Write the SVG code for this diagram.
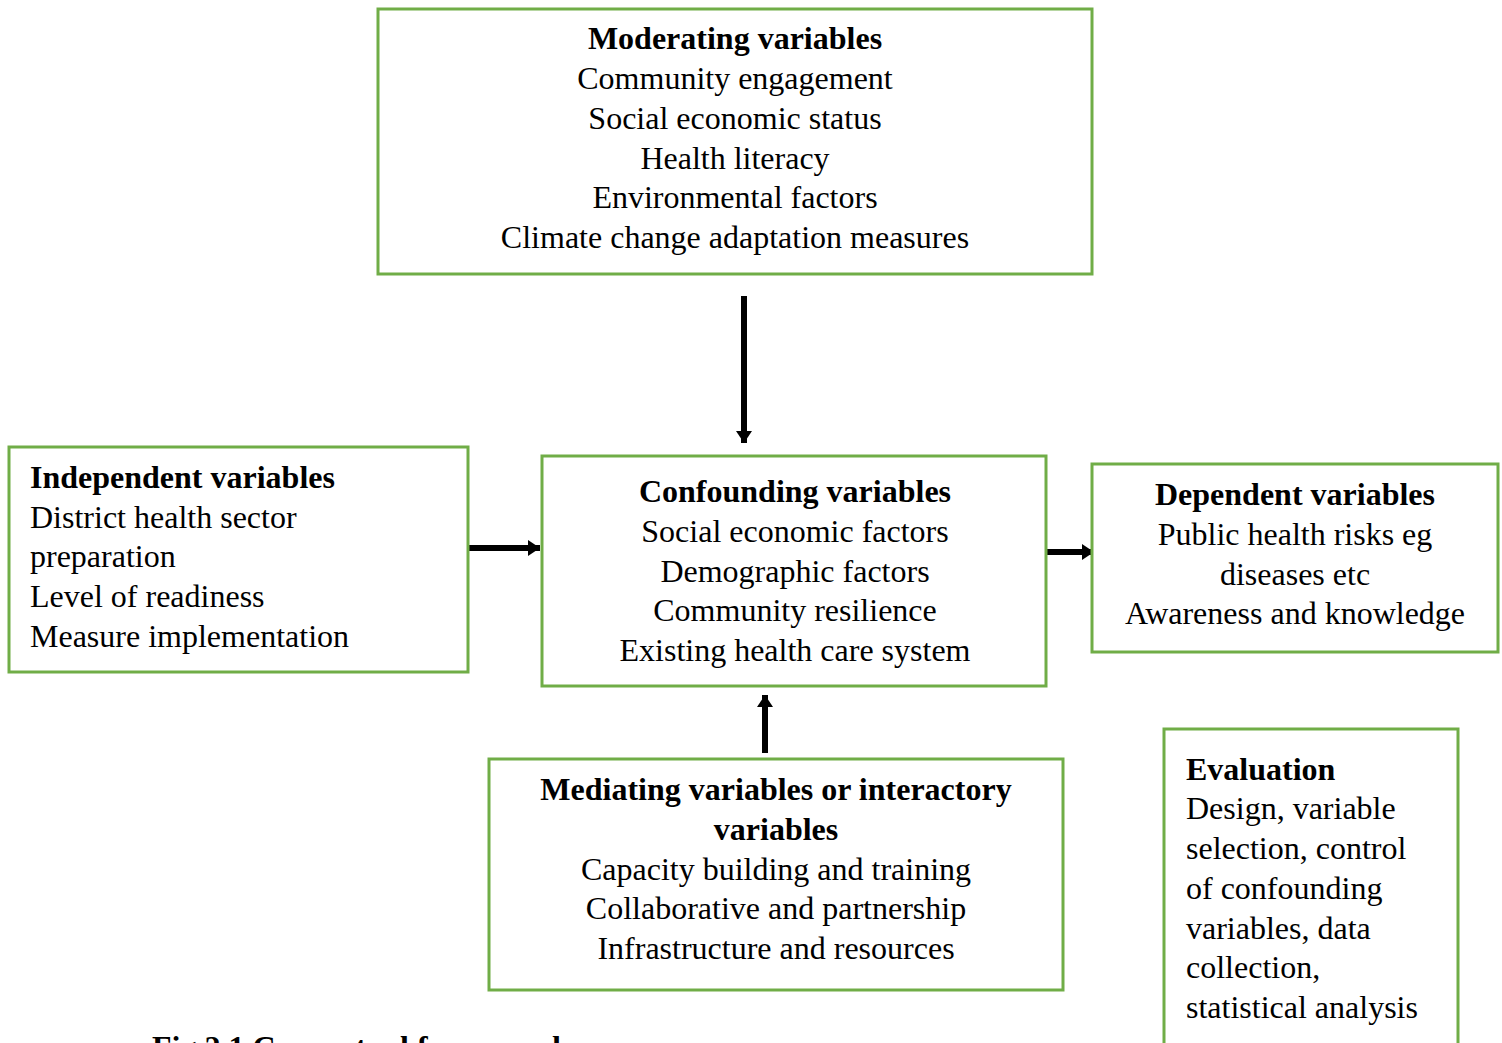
<svg xmlns="http://www.w3.org/2000/svg" width="1502" height="1043" viewBox="0 0 1502 1043">
<style>
.box{fill:#fff;stroke:#70AD47;stroke-width:3}
text{font-family:"Liberation Serif","Times New Roman",serif;font-size:32px;fill:#000}
.b{font-weight:bold}
.c{text-anchor:middle}
.conn{stroke:#000;stroke-width:6;fill:none}
</style>
<defs>
<marker id="ah" markerUnits="userSpaceOnUse" markerWidth="14" markerHeight="18" refX="12" refY="9" orient="auto">
<path d="M0,1 L12,9 L0,17 Z" fill="#000"/>
</marker>
</defs>
<rect width="1502" height="1043" fill="#fff"/>
<g id="connectors">
<line class="conn" x1="744" y1="296" x2="744" y2="443" marker-end="url(#ah)"/>
<line class="conn" x1="468" y1="548" x2="540" y2="548" marker-end="url(#ah)"/>
<line class="conn" x1="1046" y1="552" x2="1094" y2="552" marker-end="url(#ah)"/>
<line class="conn" x1="765" y1="753" x2="765" y2="695" marker-end="url(#ah)"/>
</g>
<g id="moderating">
<rect class="box" x="378" y="9" width="714" height="265"/>
<text class="c b" x="735" y="49">Moderating variables</text>
<text class="c" x="735" y="89">Community engagement</text>
<text class="c" x="735" y="129">Social economic status</text>
<text class="c" x="735" y="169">Health literacy</text>
<text class="c" x="735" y="208">Environmental factors</text>
<text class="c" x="735" y="248">Climate change adaptation measures</text>
</g>
<g id="independent">
<rect class="box" x="9" y="447" width="459" height="225"/>
<text class="b" x="30" y="488">Independent variables</text>
<text x="30" y="528">District health sector</text>
<text x="30" y="567">preparation</text>
<text x="30" y="607">Level of readiness</text>
<text x="30" y="647">Measure implementation</text>
</g>
<g id="confounding">
<rect class="box" x="542" y="456" width="504" height="230"/>
<text class="c b" x="795" y="502">Confounding variables</text>
<text class="c" x="795" y="542">Social economic factors</text>
<text class="c" x="795" y="582">Demographic factors</text>
<text class="c" x="795" y="621">Community resilience</text>
<text class="c" x="795" y="661">Existing health care system</text>
</g>
<g id="dependent">
<rect class="box" x="1092" y="464" width="406" height="188"/>
<text class="c b" x="1295" y="505">Dependent variables</text>
<text class="c" x="1295" y="545">Public health risks eg</text>
<text class="c" x="1295" y="585">diseases etc</text>
<text class="c" x="1295" y="624">Awareness and knowledge</text>
</g>
<g id="mediating">
<rect class="box" x="489" y="759" width="574" height="231"/>
<text class="c b" x="776" y="800">Mediating variables or interactory</text>
<text class="c b" x="776" y="840">variables</text>
<text class="c" x="776" y="880">Capacity building and training</text>
<text class="c" x="776" y="919">Collaborative and partnership</text>
<text class="c" x="776" y="959">Infrastructure and resources</text>
</g>
<g id="evaluation">
<rect class="box" x="1164" y="729" width="294" height="330"/>
<text class="b" x="1186" y="780">Evaluation</text>
<text x="1186" y="819">Design, variable</text>
<text x="1186" y="859">selection, control</text>
<text x="1186" y="899">of confounding</text>
<text x="1186" y="939">variables, data</text>
<text x="1186" y="978">collection,</text>
<text x="1186" y="1018">statistical analysis</text>
</g>
<g id="caption">
<text class="b" x="152" y="1058">Fig 2.1 Conceptual framework</text>
</g>
</svg>
